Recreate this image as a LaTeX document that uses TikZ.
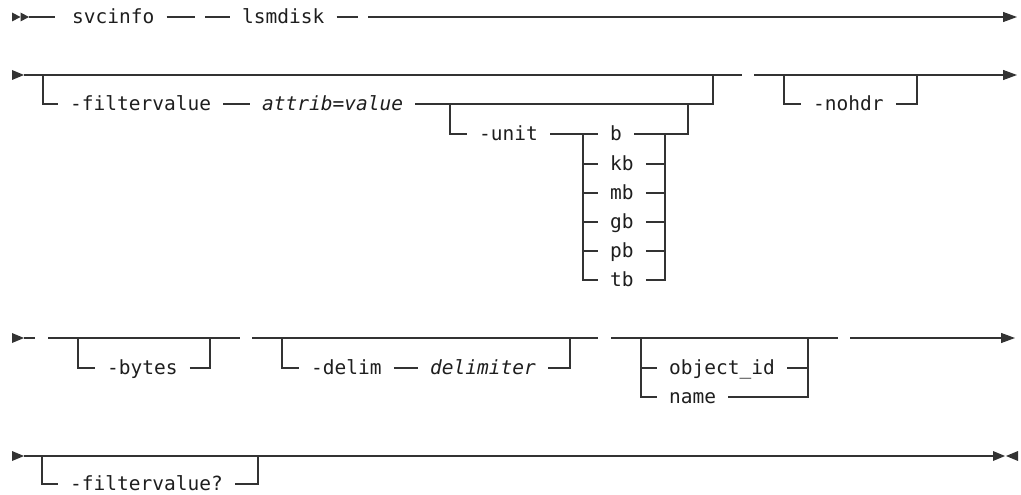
\documentclass[tikz,border=0pt]{standalone}
\usepackage{fontspec}
\newfontfamily\dmono{DejaVu Sans Mono}
\usetikzlibrary{arrows.meta}
\definecolor{lc}{HTML}{333333}
\definecolor{tc}{HTML}{1E1E1E}
\tikzset{
  ln/.style={line width=1.2pt, draw=lc},
  kw/.style={font=\dmono\fontsize{19.5}{20}\selectfont, text=tc, inner xsep=12pt, inner ysep=0pt,
             text height=13pt, text depth=0pt, anchor=west},
  var/.style={kw, font=\dmono\itshape\fontsize{19.5}{20}\selectfont},
  endarrow/.style={-{Triangle[length=14pt,width=10pt]}},
  tip/.style={fill=lc}
}
\begin{document}
\begin{tikzpicture}[x=1pt,y=-1pt]
\useasboundingbox (0,0) rectangle (1021,495);

% ---------------- Row 1 ----------------
\fill[tip] (12,12.5) -- (20.5,17) -- (12,21.5) -- cycle;
\fill[tip] (20.5,12.5) -- (29,17) -- (20.5,21.5) -- cycle;
\coordinate (r1s) at (29,17);
\node[kw] (svc) at (60,17) {svcinfo};
\node[kw] (lsm) at (230,17) {lsmdisk};
\coordinate (r1a) at (195,17);
\coordinate (r1b) at (205,17);
\coordinate (r1c) at (358,17);
\coordinate (r1d) at (368,17);
\coordinate (r1e) at (1017,17);
\draw[ln] (r1s) -- ([xshift=-5pt]svc.west);
\draw[ln] (svc.east) -- (r1a);
\draw[ln] (r1b) -- (lsm.west);
\draw[ln] (lsm.east) -- (r1c);
\draw[ln,endarrow] (r1d) -- (r1e);

% ---------------- Row 2 ----------------
\fill[tip] (12,70) -- (24,75) -- (12,80) -- cycle;
\coordinate (r2s) at (24,75);
\coordinate (r2a) at (742,75);
\coordinate (r2b) at (754,75);
\coordinate (r2e) at (1017,75);
\draw[ln] (r2s) -- (r2a);
\draw[ln,endarrow] (r2b) -- (r2e);

\coordinate (f1) at (43,75);
\coordinate (f2) at (713,75);
\node[kw] (fv) at (58,104) {-filtervalue};
\node[var] (av) at (250,104) {attrib=value};
\draw[ln] (f1) |- (fv.west);
\draw[ln] (fv.east) -- (av.west);
\draw[ln] (av.east) -| (f2);

\coordinate (u0) at (450,104);
\coordinate (uR) at (688,104);
\node[kw] (unit) at (467,134) {-unit};
\draw[ln] (u0) |- (unit.west);
\foreach \n/\t/\yy in {ob/b/134, okb/kb/164, omb/mb/193, ogb/gb/222, opb/pb/251, otb/tb/280}
  \node[kw] (\n) at (598,\yy) {\t};
\coordinate (ul) at (583,134);
\coordinate (ur) at (665,134);
\draw[ln] (unit.east) -- (ob.west);
\draw[ln] (ob.east) -| (uR);
\draw[ln] (ul) |- (otb.west);
\draw[ln] (otb.east) -| (ur);
\foreach \n in {okb,omb,ogb,opb} {
  \draw[ln] (ul |- \n.west) -- (\n.west);
  \draw[ln] (\n.east) -- (ur |- \n.east);
}

\coordinate (n0) at (784,75);
\coordinate (n1) at (917,75);
\node[kw] (nh) at (801,104) {-nohdr};
\draw[ln] (n0) |- (nh.west);
\draw[ln] (nh.east) -| (n1);

% ---------------- Row 3 ----------------
\fill[tip] (12,333) -- (24,338) -- (12,343) -- cycle;
\coordinate (r3s) at (24,338);
\coordinate (r3t) at (35,338);
\draw[ln] (r3s) -- (r3t);

\coordinate (b0s) at (48,338);
\coordinate (b0e) at (240,338);
\coordinate (b1) at (78,338);
\coordinate (b2) at (210,338);
\node[kw] (by) at (95,368) {-bytes};
\draw[ln] (b0s) -- (b0e);
\draw[ln] (b1) |- (by.west);
\draw[ln] (by.east) -| (b2);

\coordinate (d0s) at (252,338);
\coordinate (d0e) at (598,338);
\coordinate (d1) at (282,338);
\coordinate (d2) at (570,338);
\node[kw] (dm) at (299,368) {-delim};
\node[var] (dl) at (418,368) {delimiter};
\draw[ln] (d0s) -- (d0e);
\draw[ln] (d1) |- (dm.west);
\draw[ln] (dm.east) -- (dl.west);
\draw[ln] (dl.east) -| (d2);

\coordinate (o0s) at (611,338);
\coordinate (o0e) at (838,338);
\coordinate (o1) at (641,338);
\coordinate (o2) at (808,338);
\node[kw] (oid) at (657,368) {object\_id};
\node[kw] (onm) at (657,397) {name};
\draw[ln] (o0s) -- (o0e);
\draw[ln] (o1) |- (onm.west);
\draw[ln] (o1 |- oid.west) -- (oid.west);
\draw[ln] (oid.east) -- (o2 |- oid.east);
\draw[ln] (onm.east) -| (o2);

\coordinate (r3a) at (850,338);
\coordinate (r3e) at (1015,338);
\draw[ln,endarrow] (r3a) -- (r3e);

% ---------------- Row 4 ----------------
\fill[tip] (12,451) -- (24,456) -- (12,461) -- cycle;
\coordinate (r4s) at (24,456);
\coordinate (r4e) at (993,456);
\draw[ln] (r4s) -- (r4e);
\fill[tip] (993,451) -- (1005,456) -- (993,461) -- cycle;
\fill[tip] (1018,451) -- (1006,456) -- (1018,461) -- cycle;

\coordinate (q1) at (42,456);
\coordinate (q2) at (258,456);
\node[kw] (fq) at (58,484) {-filtervalue?};
\draw[ln] (q1) |- (fq.west);
\draw[ln] (fq.east) -| (q2);
\end{tikzpicture}
\end{document}
